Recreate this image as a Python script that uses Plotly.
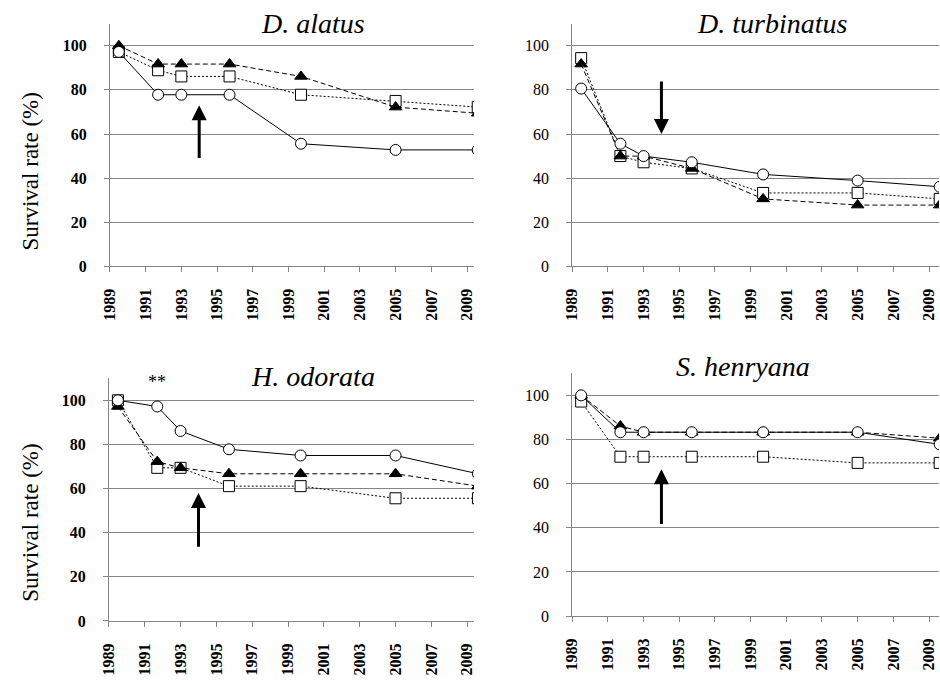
import plotly.graph_objects as go

# ---------------- data ----------------
years = [1989.5, 1991.7, 1993.0, 1995.7, 1999.7, 2005.0, 2009.6]
tick_years = [1989, 1991, 1993, 1995, 1997, 1999, 2001, 2003, 2005, 2007, 2009]
y_ticks = [0, 20, 40, 60, 80, 100]

species = ["D. alatus", "D. turbinatus", "H. odorata", "S. henryana"]

alatus_circle = [97.2, 77.8, 77.8, 77.8, 55.6, 52.8, 52.8]
alatus_square = [97.2, 88.9, 86.1, 86.1, 77.8, 75.0, 72.2]
alatus_triangle = [100.0, 91.7, 91.7, 91.7, 86.1, 72.2, 69.4]

turbinatus_circle = [80.6, 55.6, 50.0, 47.2, 41.7, 38.9, 36.1]
turbinatus_square = [94.4, 50.0, 47.2, 44.4, 33.3, 33.3, 30.6]
turbinatus_triangle = [91.7, 50.0, 50.0, 44.4, 30.6, 27.8, 27.8]

odorata_circle = [100.0, 97.2, 86.1, 77.8, 75.0, 75.0, 66.7]
odorata_square = [100.0, 69.4, 69.4, 61.1, 61.1, 55.6, 55.6]
odorata_triangle = [97.2, 72.2, 69.4, 66.7, 66.7, 66.7, 61.1]

henryana_circle = [100.0, 83.3, 83.3, 83.3, 83.3, 83.3, 77.8]
henryana_square = [97.2, 72.2, 72.2, 72.2, 72.2, 69.4, 69.4]
henryana_triangle = [100.0, 86.1, 83.3, 83.3, 83.3, 83.3, 80.6]

# arrows: year, tip value, tail value
arrow_year = [1994.0, 1994.0, 1994.0, 1994.0]
arrow_tip = [73.0, 60.0, 58.0, 66.5]
arrow_tail = [48.5, 84.5, 33.0, 41.0]

# significance mark in H. odorata panel
star_x, star_y, star_text = 1991.7, 108.5, "**"

# ---------------- figure ----------------
W, H = 940, 681
FONT = "Liberation Serif, Times New Roman, Times, serif"
GRID = "#858585"


def fx(px):
    return px / W


def fy(py):
    return 1 - py / H


panels = [
    dict(data=(alatus_square, alatus_triangle, alatus_circle), px=(102, 470), py=(24, 270), xr=2009.39, bold=True),
    dict(data=(turbinatus_square, turbinatus_triangle, turbinatus_circle), px=(569.3, 940), py=(24, 270), xr=2009.56, bold=False),
    dict(data=(odorata_square, odorata_triangle, odorata_circle), px=(101, 470), py=(383.3, 629.3), xr=2009.38, bold=True),
    dict(data=(henryana_square, henryana_triangle, henryana_circle), px=(569.3, 940), py=(378.3, 624.3), xr=2009.56, bold=False),
]

fig = go.Figure()
layout = dict(
    width=W, height=H, margin=dict(l=0, r=0, t=0, b=0),
    paper_bgcolor="white", plot_bgcolor="white", showlegend=False,
    font=dict(family=FONT, color="black"),
)
annotations = []

styles = [
    dict(symbol="square", fill="white", dash="2px,2px"),
    dict(symbol="triangle-up", fill="black", dash="5px,3px"),
    dict(symbol="circle", fill="white", dash="solid"),
]

for i, p in enumerate(panels):
    n = "" if i == 0 else str(i + 1)
    xa, ya = "x" + n, "y" + n
    for vals, st in zip(p["data"], styles):
        fig.add_trace(go.Scatter(
            x=years, y=vals, xaxis=xa, yaxis=ya, mode="lines+markers",
            line=dict(color="black", width=1, dash=st["dash"]),
            marker=dict(symbol=st["symbol"], size=11, color=st["fill"],
                        line=dict(color="black", width=1)),
            cliponaxis=True,
        ))
    x0, x1 = p["px"]
    ytop, ybot = p["py"]
    layout["xaxis" + n] = dict(
        domain=[fx(x0), min(1.0, fx(x1))], range=[1989, p["xr"]], anchor=ya,
        tickvals=tick_years, ticktext=[str(t) for t in tick_years],
        tickangle=-90, ticks="outside", ticklen=5, tickcolor=GRID,
        showline=True, linecolor=GRID, linewidth=1, showgrid=False, zeroline=False,
        tickfont=dict(family=FONT, size=16, weight="bold", color="black"),
        ticklabelstandoff=10,
    )
    layout["yaxis" + n] = dict(
        domain=[fy(ybot), fy(ytop)], range=[0, 110], anchor=xa,
        tickvals=y_ticks, ticks="outside", ticklen=5, tickcolor=GRID,
        showline=True, linecolor=GRID, linewidth=1,
        showgrid=True, gridcolor=GRID, gridwidth=1.4, zeroline=False,
        tickfont=dict(family=FONT, size=16, weight="bold" if p["bold"] else "normal", color="black"),
        ticklabelstandoff=14,
    )
    annotations.append(dict(
        x=arrow_year[i], y=arrow_tip[i], ax=arrow_year[i], ay=arrow_tail[i],
        xref=xa, yref=ya, axref=xa, ayref=ya, text="", showarrow=True,
        arrowhead=2, arrowsize=1.0, arrowwidth=3, arrowcolor="black",
    ))

# panel titles
title_pos = [(307, 23.5), (771.7, 23.5), (307, 382), (741.7, 371)]
for name, (tx, ty) in zip(species, title_pos):
    annotations.append(dict(
        x=fx(tx), y=fy(ty), xref="paper", yref="paper", text=name,
        showarrow=False, xanchor="center", yanchor="middle",
        font=dict(family=FONT, size=28, style="italic", color="black"),
    ))

# y-axis labels
for cy in (174, 530):
    annotations.append(dict(
        x=fx(22), y=fy(cy), xref="paper", yref="paper", text="Survival rate (%)",
        showarrow=False, textangle=-90, xanchor="center", yanchor="middle",
        font=dict(family=FONT, size=23, color="black"),
    ))

annotations.append(dict(
    x=star_x, y=star_y, xref="x3", yref="y3", text=star_text, showarrow=False,
    xanchor="center", yanchor="middle", font=dict(family=FONT, size=18, color="black"),
))

layout["annotations"] = annotations
fig.update_layout(**layout)
fig.write_html(
    "out.html",
    config={"displayModeBar": False},
    post_script="document.body.style.margin='0px';document.body.style.overflow='hidden';",
)
